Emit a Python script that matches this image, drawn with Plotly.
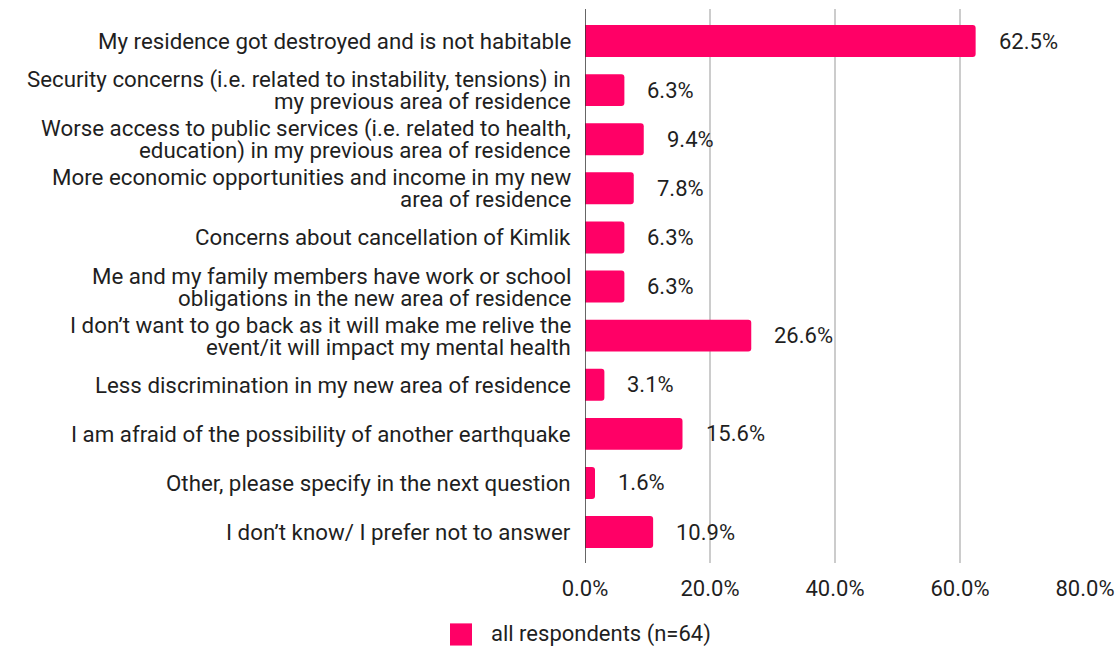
import plotly.graph_objects as go

categories = [
    "My residence got destroyed and is not habitable",
    "Security concerns (i.e. related to instability, tensions) in<br>my previous area of residence",
    "Worse access to public services (i.e. related to health,<br>education) in my previous area of residence",
    "More economic opportunities and income in my new<br>area of residence",
    "Concerns about cancellation of Kimlik",
    "Me and my family members have work or school<br>obligations in the new area of residence",
    "I don\u2019t want to go back as it will make me relive the<br>event/it will impact my mental health",
    "Less discrimination in my new area of residence",
    "I am afraid of the possibility of another earthquake",
    "Other, please specify in the next question",
    "I don\u2019t know/ I prefer not to answer",
]
values = [62.5, 6.3, 9.4, 7.8, 6.3, 6.3, 26.6, 3.1, 15.6, 1.6, 10.9]
tick_vals = [0, 20, 40, 60, 80]
tick_text = ["0.0%", "20.0%", "40.0%", "60.0%", "80.0%"]
series_name = "all respondents (n=64)"
color = "#FF0066"
text_color = "#1f1f1f"
FONT = "Roboto"

fig = go.Figure()
fig.add_trace(go.Bar(
    x=values, y=categories, orientation="h", name=series_name,
    marker=dict(color=color, cornerradius=3, line=dict(width=0)),
    width=0.65, showlegend=False, hoverinfo="skip",
))

# value labels
for v, c in zip(values, categories):
    fig.add_annotation(x=v, y=c, text=f"{v:.1f}%", showarrow=False,
                       xanchor="left", xshift=21,
                       font=dict(family=FONT, size=22, color=text_color))

# category labels (per line, to mimic the tight line spacing of the original)
line_h = 22
for c in categories:
    lines = c.split("<br>")
    n = len(lines)
    for i, ln in enumerate(lines):
        fig.add_annotation(x=0, y=c, text=ln, showarrow=False,
                           xanchor="right", xshift=-12,
                           yshift=((n - 1) / 2 - i) * line_h,
                           font=dict(family=FONT, size=22.3, color=text_color))

# legend (manual, to get a large swatch)
fig.add_shape(type="rect", xref="paper", yref="paper",
              x0=-0.27, x1=-0.226, y0=-0.149, y1=-0.109,
              fillcolor=color, line=dict(width=0))
fig.add_annotation(xref="paper", yref="paper", x=-0.192, y=-0.129,
                   text=series_name, showarrow=False, xanchor="left", yanchor="middle",
                   font=dict(family=FONT, size=22, color=text_color))

fig.update_layout(
    width=1118, height=648,
    margin=dict(l=585, r=33, t=9, b=85, autoexpand=False),
    paper_bgcolor="white", plot_bgcolor="white",
    font=dict(family=FONT, size=22, color=text_color),
    xaxis=dict(range=[0, 80], tickvals=tick_vals, ticktext=tick_text,
               showgrid=True, gridcolor="#cccccc", gridwidth=1.5,
               zeroline=False, showline=False, automargin=False,
               ticks="", ticklabelstandoff=10,
               tickfont=dict(family=FONT, size=22, color=text_color)),
    yaxis=dict(autorange=False, range=[10.63, -0.652], type="category",
               showgrid=False, showline=False, zeroline=False,
               showticklabels=False, ticks="", automargin=False),
    showlegend=False,
)
fig.add_shape(type="line", xref="x", yref="paper", x0=0, x1=0, y0=0, y1=1,
              line=dict(color="#333333", width=1.5))

fig.write_html(
    "out.html",
    config={"displayModeBar": False, "staticPlot": True},
    post_script="document.body.style.margin='0';document.body.style.overflow='hidden';",
)
